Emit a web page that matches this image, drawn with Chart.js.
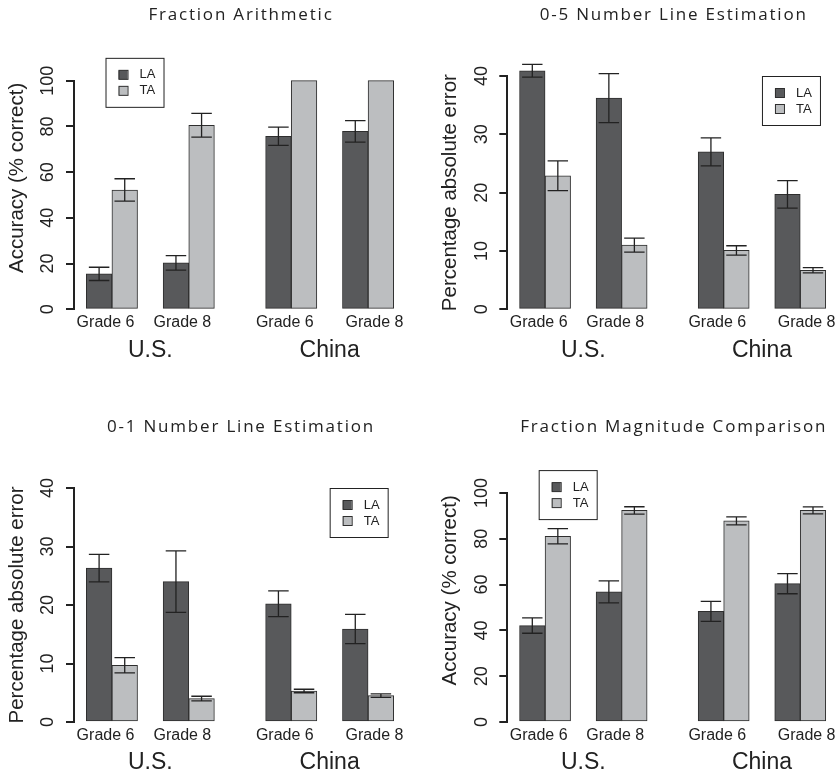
<!DOCTYPE html>
<html lang="en">
<head>
  <meta charset="UTF-8">
  <title>LA vs TA - fraction tasks</title>
  <script src="https://cdn.jsdelivr.net/npm/chart.js@4.4.3/dist/chart.umd.min.js"></script>
  <style>
    html, body { margin: 0; padding: 0; background: #fff; }
    .grid { display: grid; grid-template-columns: 419px 419px; grid-template-rows: 387px 387px; width: 838px; height: 774px; }
    canvas { display: block; }
  </style>
</head>
<body>
  <div class="grid">
    <canvas id="c1" width="419" height="387"></canvas>
    <canvas id="c2" width="419" height="387"></canvas>
    <canvas id="c3" width="419" height="387"></canvas>
    <canvas id="c4" width="419" height="387"></canvas>
  </div>

  <script>
    // data
    const grades = ['Grade 6', 'Grade 8', 'Grade 6', 'Grade 8'];
    const countries = ['U.S.', 'China'];
    const seriesNames = ['LA', 'TA'];

    const arithLA = [15.5, 20.3, 75.7, 77.8];
    const arithLAErr = [2.9, 3.2, 4.0, 4.7];
    const arithTA = [52.2, 80.5, 100, 100];
    const arithTAErr = [4.9, 5.2, 0, 0];

    const nle05LA = [40.9, 36.2, 27.0, 19.7];
    const nle05LAErr = [1.1, 4.2, 2.4, 2.35];
    const nle05TA = [22.9, 11.0, 10.1, 6.7];
    const nle05TAErr = [2.55, 1.2, 0.8, 0.45];

    const nle01LA = [26.3, 24.0, 20.2, 15.9];
    const nle01LAErr = [2.35, 5.25, 2.2, 2.5];
    const nle01TA = [9.7, 4.0, 5.3, 4.5];
    const nle01TAErr = [1.3, 0.4, 0.3, 0.3];

    const magnLA = [42.1, 56.8, 48.3, 60.4];
    const magnLAErr = [3.35, 4.8, 4.35, 4.4];
    const magnTA = [81.1, 92.4, 87.8, 92.4];
    const magnTAErr = [3.35, 1.6, 1.75, 1.5];

    // look
    const FONT = '"Liberation Sans", Arial, Helvetica, sans-serif';
    const TITLE_FONT = '"Open Sans", "Noto Sans", sans-serif';
    const INK = '#222222';
    const EDGE = '#2e2e2e';
    const FILLS = ['#58595b', '#bcbec0'];

    // bar slots in bar-width units: 2 bars per grade, 1 gap, 2 gaps between countries
    const groupStart = g => g * 3 + (g >= 2 ? 1 : 0);
    const xTickAt = [0.75, 3.75, 7.75, 11.25];

    const panels = [
      { id: 'c1', title: 'Fraction Arithmetic', yTitle: 'Accuracy (% correct)',
        series: [arithLA, arithTA], errs: [arithLAErr, arithTAErr],
        yMax: 100, yStep: 20, yLim: 115, legendAt: [0.75, 110],
        area: { left: 74, right: 406, top: 80.7, bottom: 309.3 }, titleY: 15 },
      { id: 'c2', title: '0-5 Number Line Estimation', yTitle: 'Percentage absolute error',
        series: [nle05LA, nle05TA], errs: [nle05LAErr, nle05TAErr],
        yMax: 40, yStep: 10, yLim: 40, legendAt: [9.5, 40],
        area: { left: 88.3, right: 419, top: 76, bottom: 309.3 }, titleY: 15 },
      { id: 'c3', title: '0-1 Number Line Estimation', yTitle: 'Percentage absolute error',
        series: [nle01LA, nle01TA], errs: [nle01LAErr, nle01TAErr],
        yMax: 40, yStep: 10, yLim: 40, legendAt: [9.5, 40],
        area: { left: 74, right: 406, top: 101, bottom: 335 }, titleY: 40 },
      { id: 'c4', title: 'Fraction Magnitude Comparison', yTitle: 'Accuracy (% correct)',
        series: [magnLA, magnTA], errs: [magnLAErr, magnTAErr],
        yMax: 100, yStep: 20, yLim: 115, legendAt: [0.75, 110],
        area: { left: 88.3, right: 419, top: 106, bottom: 335 }, titleY: 40 }
    ];

    function decorFor(p) {
      return {
        id: 'panelDecor',
        afterDatasetsDraw(chart) {
          const { ctx } = chart;
          const y = chart.scales.y;
          ctx.save();
          ctx.strokeStyle = INK;
          ctx.lineWidth = 1.3;
          p.series.forEach((vals, s) => {
            chart.getDatasetMeta(s).data.forEach((bar, i) => {
              const e = p.errs[s][i];
              if (!e) return;
              const top = y.getPixelForValue(vals[i] + e);
              const bot = y.getPixelForValue(vals[i] - e);
              const half = bar.width * 0.4;
              ctx.beginPath();
              ctx.moveTo(bar.x, top); ctx.lineTo(bar.x, bot);
              ctx.moveTo(bar.x - half, top); ctx.lineTo(bar.x + half, top);
              ctx.moveTo(bar.x - half, bot); ctx.lineTo(bar.x + half, bot);
              ctx.stroke();
            });
          });
          ctx.restore();
        },
        afterDraw(chart) {
          const { ctx, chartArea: area } = chart;
          const x = chart.scales.x, y = chart.scales.y;
          const y0 = y.getPixelForValue(0);
          ctx.save();
          ctx.fillStyle = INK;

          // y tick labels, rotated like R
          ctx.font = `18px ${FONT}`;
          ctx.textAlign = 'center';
          ctx.textBaseline = 'middle';
          y.ticks.forEach(t => {
            ctx.save();
            ctx.translate(area.left - 25.5, y.getPixelForValue(t.value));
            ctx.rotate(-Math.PI / 2);
            ctx.fillText(String(t.value), 0, 0);
            ctx.restore();
          });

          // y axis title
          ctx.font = `20.5px ${FONT}`;
          ctx.save();
          ctx.translate(area.left - 57, y.getPixelForValue(p.yLim / 2));
          ctx.rotate(-Math.PI / 2);
          ctx.fillText(p.yTitle, 0, 0);
          ctx.restore();

          // country labels
          ctx.font = `23px ${FONT}`;
          countries.forEach((c, k) => {
            const mid = (groupStart(2 * k) + groupStart(2 * k + 1) + 2) / 2;
            ctx.fillText(c, x.getPixelForValue(mid), y0 + 41);
          });

          // panel title
          ctx.fillStyle = INK;
          ctx.font = `17px ${TITLE_FONT}`;
          ctx.letterSpacing = '1.8px';
          ctx.fillText(p.title, (area.left + area.right) / 2 + 1, p.titleY);
          ctx.letterSpacing = '0px';

          // legend box
          const lx = x.getPixelForValue(p.legendAt[0]);
          const ly = y.getPixelForValue(p.legendAt[1]);
          ctx.fillStyle = '#fff';
          ctx.fillRect(lx, ly, 58, 49);
          ctx.strokeStyle = INK;
          ctx.lineWidth = 1;
          ctx.strokeRect(lx + 0.5, ly + 0.5, 58, 49);
          ctx.font = `13px ${FONT}`;
          ctx.textAlign = 'left';
          seriesNames.forEach((name, s) => {
            const cy = ly + 17 + s * 16;
            ctx.fillStyle = FILLS[s];
            ctx.fillRect(lx + 13, cy - 4.5, 9, 9);
            ctx.strokeStyle = EDGE;
            ctx.strokeRect(lx + 13.5, cy - 4.5, 9, 9);
            ctx.fillStyle = INK;
            ctx.fillText(name, lx + 34, cy);
          });
          ctx.restore();
        }
      };
    }

    function makeChart(p) {
      const canvas = document.getElementById(p.id);
      const W = canvas.width, H = canvas.height;
      return new Chart(canvas, {
        type: 'bar',
        data: {
          datasets: p.series.map((vals, s) => ({
            label: seriesNames[s],
            data: vals.map((v, g) => ({ x: groupStart(g) + s + 0.5, y: v })),
            backgroundColor: FILLS[s]
          }))
        },
        options: {
          responsive: false,
          animation: false,
          layout: { padding: { left: 0, right: W - p.area.right, top: p.area.top, bottom: 0 } },
          datasets: {
            bar: {
              grouped: false, categoryPercentage: 1, barPercentage: 1,
              borderWidth: 1, borderColor: EDGE, borderSkipped: false, clip: false
            }
          },
          plugins: { legend: { display: false }, tooltip: { enabled: false }, title: { display: false } },
          scales: {
            x: {
              type: 'linear', min: -0.48, max: 12.48, offset: false,
              afterBuildTicks: s => { s.ticks = xTickAt.map(v => ({ value: v })); },
              afterFit: s => { s.height = H - p.area.bottom; s.paddingLeft = 0; s.paddingRight = 0; },
              grid: { display: false, drawTicks: false, offset: false },
              border: { display: false },
              ticks: {
                autoSkip: false, maxRotation: 0, padding: 3.5, color: INK,
                font: { family: FONT, size: 16 },
                callback: (v, i) => grades[i]
              }
            },
            y: {
              min: 0, max: p.yMax,
              ticks: { stepSize: p.yStep, display: false },
              afterFit: s => { s.width = p.area.left; s.paddingTop = 0; s.paddingBottom = 0; },
              grid: { drawOnChartArea: false, tickLength: 8, color: INK, lineWidth: 2 },
              border: { display: true, color: INK, width: 2 }
            }
          }
        },
        plugins: [decorFor(p)]
      });
    }

    panels.forEach(makeChart);
  </script>
</body>
</html>
